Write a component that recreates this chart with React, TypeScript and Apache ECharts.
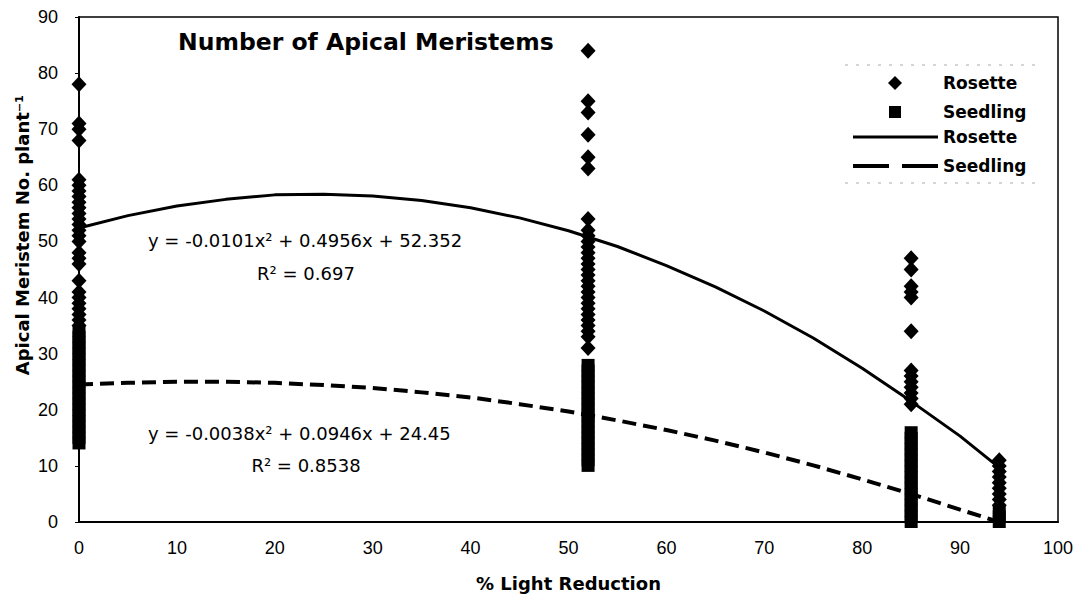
import React, { useEffect, useRef } from "react";
import * as echarts from "echarts";

// Light-reduction levels (%) at which plants were sampled
const lightLevels = [0, 52, 85, 94];

// Rosette apical meristem counts per level
const rosette0 = [78, 71, 70, 68, 61, 60, 59, 58, 57, 56, 55, 54, 53, 52, 51, 50, 48, 47, 46, 43, 41, 40, 39, 38, 37, 36, 35];
const rosette52 = [84, 75, 73, 69, 65, 63, 54, 52, 51, 50, 49, 48, 47, 46, 45, 44, 43, 42, 41, 40, 39, 38, 37, 36, 35, 34, 33, 31];
const rosette85 = [47, 45, 42, 41, 40, 34, 27, 26, 25, 24, 23, 22, 21];
const rosette94 = [11, 10, 9, 8, 7, 6, 5, 4, 3];

// Seedling apical meristem counts per level
const seedling0 = [14, 15, 16, 17, 18, 19, 20, 21, 22, 23, 24, 25, 26, 27, 28, 29, 30, 31, 32, 33, 34];
const seedling52 = [10, 11, 12, 13, 14, 15, 16, 17, 18, 19, 20, 21, 22, 23, 24, 25, 26, 27, 28];
const seedling85 = [0, 1, 2, 3, 4, 5, 6, 7, 8, 9, 10, 11, 12, 13, 14, 15, 16];
const seedling94 = [0, 1, 2];

// Trend curves
const trendX = [0, 5, 10, 15, 20, 25, 30, 35, 40, 45, 50, 55, 60, 65, 70, 75, 80, 85, 90, 94];
const rosetteTrend = [52.4, 54.6, 56.3, 57.5, 58.3, 58.4, 58.1, 57.3, 56.0, 54.2, 51.9, 49.1, 45.7, 41.9, 37.6, 32.8, 27.4, 21.5, 15.3, 9.7];
const seedlingTrend = [24.5, 24.8, 25.0, 25.0, 24.8, 24.4, 23.9, 23.1, 22.2, 21.0, 19.7, 18.1, 16.4, 14.5, 12.4, 10.1, 7.6, 5.0, 2.2, 0];

const xTicks = [0, 100, 10];
const yTicks = [0, 90, 10];

const legendNames = ["Rosette", "Seedling", "Rosette", "Seedling"];

const rosetteEq = "y = -0.0101x² + 0.4956x + 52.352";
const rosetteR2 = "R² = 0.697";
const seedlingEq = "y = -0.0038x² + 0.0946x + 24.45";
const seedlingR2 = "R² = 0.8538";

const FONT = "'Liberation Sans', Arial, Helvetica, sans-serif";
const WIDE = "'DejaVu Sans', 'Liberation Sans', Arial, sans-serif";

function toPoints(xs: number[], groups: number[][]) {
  const out: number[][] = [];
  groups.forEach((vals, i) => vals.forEach((v) => out.push([xs[i], v])));
  return out;
}

export default function App() {
  const ref = useRef<HTMLDivElement>(null);
  useEffect(() => {
    if (!ref.current) return;
    const chart = echarts.init(ref.current, undefined, { renderer: "svg" });
    const rosettePts = toPoints(lightLevels, [rosette0, rosette52, rosette85, rosette94]);
    const seedlingPts = toPoints(lightLevels, [seedling0, seedling52, seedling85, seedling94]);

    const legendText = (t: string, y: number) => ({
      type: "text",
      x: 943,
      y,
      style: { text: t, fontFamily: WIDE, fontWeight: "bold", fontSize: 17, fill: "#000", align: "left", verticalAlign: "middle" },
    });

    chart.setOption({
      animation: false,
      backgroundColor: "#fff",
      title: {
        text: "Number of Apical Meristems",
        left: 178,
        top: 30,
        padding: 0,
        textStyle: { fontFamily: WIDE, fontWeight: "bold", fontSize: 23.5, color: "#000" },
      },
      grid: {
        left: 79,
        right: 31,
        top: 17,
        bottom: 75,
        show: true,
        borderColor: "#000",
        borderWidth: 1.5,
      },
      xAxis: {
        type: "value",
        min: xTicks[0],
        max: xTicks[1],
        interval: xTicks[2],
        name: "% Light Reduction",
        nameLocation: "middle",
        nameGap: 52,
        nameTextStyle: { fontFamily: WIDE, fontWeight: "bold", fontSize: 18, color: "#000" },
        axisLine: { lineStyle: { color: "#000", width: 2 } },
        axisTick: { show: false },
        axisLabel: { fontFamily: FONT, fontSize: 18, color: "#000", margin: 17 },
        splitLine: { show: false },
      },
      yAxis: {
        type: "value",
        min: yTicks[0],
        max: yTicks[1],
        interval: yTicks[2],
        axisLine: { show: true, lineStyle: { color: "#000", width: 2 } },
        axisTick: { show: true, length: 4, lineStyle: { color: "#000" } },
        axisLabel: { fontFamily: FONT, fontSize: 18, color: "#000", margin: 21 },
        splitLine: { show: false },
      },
      graphic: [
        {
          type: "text",
          x: 22,
          y: 235,
          rotation: Math.PI / 2,
          style: {
            text: "Apical Meristem No. plant⁻¹",
            fontFamily: WIDE,
            fontWeight: "bold",
            fontSize: 18,
            fill: "#000",
            align: "center",
            verticalAlign: "middle",
          },
        },
        {
          type: "text",
          x: 148,
          y: 240,
          style: { text: rosetteEq, fontFamily: WIDE, fontSize: 18, fill: "#000", align: "left", verticalAlign: "middle" },
        },
        {
          type: "text",
          x: 306,
          y: 273,
          style: { text: rosetteR2, fontFamily: WIDE, fontSize: 18, fill: "#000", align: "center", verticalAlign: "middle" },
        },
        {
          type: "text",
          x: 148,
          y: 433,
          style: { text: seedlingEq, fontFamily: WIDE, fontSize: 18, fill: "#000", align: "left", verticalAlign: "middle" },
        },
        {
          type: "text",
          x: 306,
          y: 465,
          style: { text: seedlingR2, fontFamily: WIDE, fontSize: 18, fill: "#000", align: "center", verticalAlign: "middle" },
        },
        // legend
        {
          type: "line",
          shape: { x1: 845, y1: 65, x2: 1040, y2: 65 },
          style: { stroke: "#aaa", lineWidth: 1, lineDash: [3, 8] },
        },
        {
          type: "line",
          shape: { x1: 845, y1: 183, x2: 1040, y2: 183 },
          style: { stroke: "#aaa", lineWidth: 1, lineDash: [3, 8] },
        },
        {
          type: "polygon",
          shape: { points: [[895, 76], [902, 83], [895, 90], [888, 83]] },
          style: { fill: "#000" },
        },
        { type: "rect", shape: { x: 889, y: 106, width: 12, height: 12 }, style: { fill: "#000" } },
        {
          type: "line",
          shape: { x1: 853, y1: 137, x2: 938, y2: 137 },
          style: { stroke: "#000", lineWidth: 3 },
        },
        {
          type: "line",
          shape: { x1: 853, y1: 166, x2: 938, y2: 166 },
          style: { stroke: "#000", lineWidth: 4, lineDash: [36, 13] },
        },
        legendText(legendNames[0], 83),
        legendText(legendNames[1], 112),
        legendText(legendNames[2], 137),
        legendText(legendNames[3], 166),
      ],
      series: [
        {
          name: "Rosette",
          type: "scatter",
          symbol: "diamond",
          symbolSize: [15, 16],
          itemStyle: { color: "#000", opacity: 1 },
          data: rosettePts,
          z: 3,
        },
        {
          name: "Seedling",
          type: "scatter",
          symbol: "rect",
          symbolSize: [13, 12],
          itemStyle: { color: "#000", opacity: 1 },
          data: seedlingPts,
          z: 3,
        },
        {
          name: "Rosette trend",
          type: "line",
          symbol: "none",
          lineStyle: { color: "#000", width: 3 },
          itemStyle: { color: "#000" },
          data: trendX.map((x, i) => [x, rosetteTrend[i]]),
          z: 4,
        },
        {
          name: "Seedling trend",
          type: "line",
          symbol: "none",
          lineStyle: { color: "#000", width: 4, type: [14, 7] },
          itemStyle: { color: "#000" },
          data: trendX.map((x, i) => [x, seedlingTrend[i]]),
          z: 4,
        },
      ],
    });
    return () => chart.dispose();
  }, []);
  return (
    <div
      ref={ref}
      style={{ position: "fixed", left: 0, top: 0, width: 1089, height: 597, background: "#fff" }}
    />
  );
}
